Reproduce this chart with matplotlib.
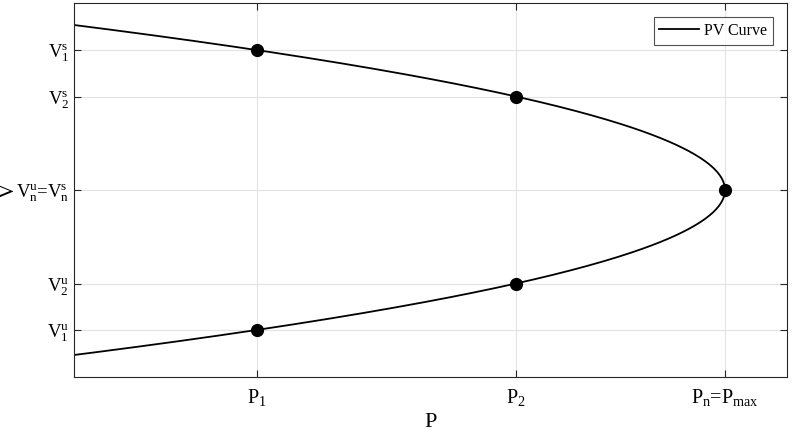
import numpy as np
import matplotlib.pyplot as plt

plt.rcParams['font.family'] = ['Liberation Serif', 'DejaVu Serif']
plt.rcParams['mathtext.fontset'] = 'custom'
plt.rcParams['mathtext.rm'] = 'Liberation Serif'
plt.rcParams['mathtext.it'] = 'Liberation Serif'

# operating points (normalised units)
p_ticks = [0.257, 0.620, 0.913]
p_labels = [r'$\mathrm{P}_{1}$', r'$\mathrm{P}_{2}$',
            r'$\mathrm{P}_{\mathrm{n}}$=$\mathrm{P}_{\mathrm{max}}$']
v_ticks = [0.126, 0.25, 0.50, 0.75, 0.874]
v_labels = [r'$\mathrm{V}_{1}^{\mathrm{u}}$', r'$\mathrm{V}_{2}^{\mathrm{u}}$',
            r'$\mathrm{V}_{\mathrm{n}}^{\mathrm{u}}$=$\mathrm{V}_{\mathrm{n}}^{\mathrm{s}}$',
            r'$\mathrm{V}_{2}^{\mathrm{s}}$', r'$\mathrm{V}_{1}^{\mathrm{s}}$']
pts_p = [0.257, 0.620, 0.913, 0.620, 0.257]
pts_v = [0.874, 0.75, 0.50, 0.25, 0.126]

p_max = 0.913
v_n = 0.50
# nose curve: parabola through the marked points
k = (p_max - pts_p[0]) / (pts_v[0] - v_n) ** 2
v = np.linspace(-0.1, 1.1, 400)
p = p_max - k * (v - v_n) ** 2

fig = plt.figure(figsize=(7.95, 4.32), dpi=100)
ax = fig.add_axes([74 / 795, 55 / 432, 713 / 795, 374 / 432])
ax.plot(p, v, color='black', lw=1.3, label='PV Curve')
ax.plot(pts_p, pts_v, 'o', color='black', ms=8.5)

ax.set_xlim(0, 1)
ax.set_ylim(0, 1)
ax.set_xticks(p_ticks)
ax.set_xticklabels(p_labels, fontsize=14.5)
ax.set_yticks(v_ticks)
ax.set_yticklabels(v_labels, fontsize=13.5)
ax.set_xlabel('P', fontsize=16, labelpad=4)
ax.set_ylabel('V', fontsize=15)
ax.yaxis.set_label_coords(-0.077, 0.5)
ax.grid(True, color='#e3e3e3', lw=0.8)
ax.tick_params(direction='in', length=5, color='#262626', top=True, right=True)
ax.tick_params(axis='y', pad=3.5)
ax.tick_params(axis='x', pad=7)
for s in ax.spines.values():
    s.set_color('#262626')
    s.set_linewidth(0.8)

leg = ax.legend(loc='upper right', fontsize=11.5, fancybox=False, edgecolor='#262626',
                handlelength=2.5, handletextpad=0.3, borderpad=0.35, borderaxespad=0.9)
leg.get_frame().set_linewidth(0.8)

fig.savefig('out.png', dpi=100)
